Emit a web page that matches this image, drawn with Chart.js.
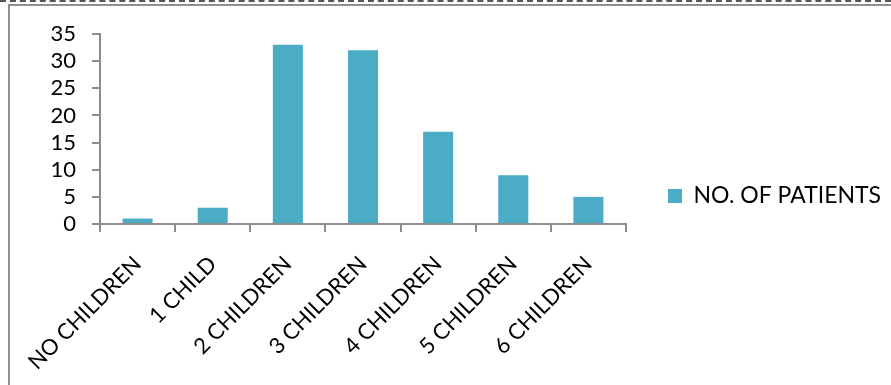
<!DOCTYPE html>
<html lang="en">
<head>
  <meta charset="UTF-8">
  <title>No. of patients by number of children</title>
  <script src="https://cdn.jsdelivr.net/npm/chart.js"></script>
  <style>
    body { margin: 0; background: #fff; }
    #wrap { position: relative; width: 891px; height: 385px; overflow: hidden; }
    #topline { position: absolute; left: 0; top: 0; width: 891px; border-top: 2px dashed #555; }
    #frame { position: absolute; left: 8px; top: 4px; width: 900px; height: 400px;
             border-top: 2px solid #8f8f8f; border-left: 2px solid #8f8f8f; }
    canvas { position: absolute; left: 0; top: 0; }
  </style>
</head>
<body>
  <div id="wrap">
    <div id="topline"></div>
    <div id="frame"></div>
    <canvas id="chart" width="891" height="385"></canvas>
  </div>

  <script>
    const categories = ['NO CHILDREN', '1 CHILD', '2 CHILDREN', '3 CHILDREN', '4 CHILDREN', '5 CHILDREN', '6 CHILDREN'];
    const patients = [1, 3, 33, 32, 17, 9, 5];
    const yTicks = [0, 5, 10, 15, 20, 25, 30, 35];

    const axisGray = '#8c8c8c';
    const font = { family: 'Lato', size: 22 };

    const ctx = document.getElementById('chart').getContext('2d');
    new Chart(ctx, {
      type: 'bar',
      data: {
        labels: categories,
        datasets: [{
          label: 'NO. OF PATIENTS',
          data: patients,
          backgroundColor: '#4bacc6',
          barPercentage: 0.4,
          categoryPercentage: 1
        }]
      },
      options: {
        responsive: false,
        animation: false,
        // top padding is small so the full-height legend centres like the original;
        // the empty top axis below pushes the plot area down to its place
        layout: { padding: { left: 0, top: 7, right: 0, bottom: 0 } },
        plugins: {
          tooltip: { enabled: false },
          legend: {
            position: 'right',
            maxWidth: 266,
            labels: {
              color: '#000',
              font: { family: 'Lato', size: 23 },
              boxWidth: 14,
              boxHeight: 14,
              padding: 42
            }
          }
        },
        scales: {
          x: {
            afterFit: s => { s.height = 161; },
            grid: { drawOnChartArea: false, color: axisGray, lineWidth: 2, tickLength: 8 },
            border: { color: axisGray, width: 2 },
            ticks: { color: '#000', font: font, minRotation: 45, maxRotation: 45, padding: 19 }
          },
          xTop: {
            type: 'category',
            position: 'top',
            afterFit: s => { s.height = 27; },
            grid: { display: false },
            border: { display: false },
            ticks: { display: false }
          },
          y: {
            min: 0,
            max: 35,
            afterFit: s => { s.width = 100; },
            afterBuildTicks: s => { s.ticks = yTicks.map(v => ({ value: v })); },
            grid: { drawOnChartArea: false, color: axisGray, lineWidth: 2, tickLength: 8 },
            border: { color: axisGray, width: 2 },
            ticks: { color: '#000', font: font, padding: 16, autoSkip: false }
          }
        }
      }
    });
  </script>
</body>
</html>
